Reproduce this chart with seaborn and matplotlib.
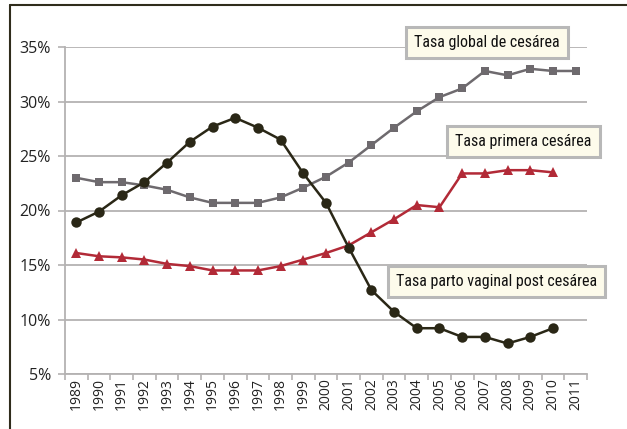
import matplotlib.pyplot as plt
from matplotlib.lines import Line2D
from matplotlib.ticker import FixedLocator
import numpy as np
import pandas as pd
import seaborn as sns

years = list(range(1989, 2012))

tasa_global = [23.0, 22.6, 22.6, 22.3, 21.9, 21.2, 20.7, 20.7, 20.7, 21.2, 22.1, 23.1,
               24.4, 26.0, 27.6, 29.1, 30.4, 31.2, 32.8, 32.4, 33.0, 32.8, 32.8]
tasa_primera = [16.1, 15.8, 15.7, 15.5, 15.1, 14.9, 14.5, 14.5, 14.5, 14.9, 15.5, 16.1,
                16.8, 18.0, 19.2, 20.5, 20.3, 23.4, 23.4, 23.7, 23.7, 23.5, np.nan]
tasa_vaginal = [18.9, 19.9, 21.4, 22.6, 24.4, 26.3, 27.7, 28.5, 27.6, 26.5, 23.4, 20.7,
                16.6, 12.7, 10.7, 9.2, 9.2, 8.4, 8.4, 7.8, 8.4, 9.2, np.nan]

labels = ["Tasa global de cesárea", "Tasa primera cesárea", "Tasa parto vaginal post cesárea"]

sns.set_style("white")
plt.rcParams['font.family'] = ['Open Sans', 'DejaVu Sans']
cond = ['Roboto Condensed', 'Open Sans', 'DejaVu Sans']

fig = plt.figure(figsize=(6.27, 4.29), dpi=100, facecolor='white')
ax = fig.add_axes([65 / 627, (429 - 374) / 429, (587 - 65) / 627, (374 - 47) / 429])

grid_c = "#b4b2b2"
for v in range(5, 40, 5):
    ax.axhline(v, color=grid_c, lw=1.3, zorder=0)

df = pd.DataFrame({"year": years, "g": tasa_global, "p": tasa_primera, "v": tasa_vaginal})

sns.lineplot(data=df, x="year", y="g", ax=ax, color="#6e6a6e", lw=1.8,
             marker="s", markersize=5.5, markeredgewidth=0)
sns.lineplot(data=df, x="year", y="p", ax=ax, color="#b22a37", lw=1.8,
             marker="^", markersize=7, markeredgewidth=0)
sns.lineplot(data=df, x="year", y="v", ax=ax, color="#2a2716", lw=1.8,
             marker="o", markersize=7.5, markeredgewidth=0)

ax.set_xlim(1988.5, 2011.5)
ax.set_ylim(5, 35)
ax.set_xlabel("")
ax.set_ylabel("")

ax.set_xticks(years)
ax.set_xticklabels([str(y) for y in years], rotation=90, fontsize=10, color="#222222")
ax.xaxis.set_minor_locator(FixedLocator([y - 0.5 for y in years] + [2011.5]))
ax.tick_params(axis="x", which="major", length=0, pad=3)
ax.tick_params(axis="x", which="minor", length=4, color=grid_c, width=1.2, bottom=True)

ax.set_yticks(range(5, 40, 5))
ax.set_yticklabels([f"{v}%" for v in range(5, 40, 5)], fontsize=11.5, color="#222222")
ax.tick_params(axis="y", length=5, color=grid_c, width=1.2, left=True, pad=5)

for s in ["top", "right"]:
    ax.spines[s].set_visible(False)
for s in ["left", "bottom"]:
    ax.spines[s].set_color(grid_c)
    ax.spines[s].set_linewidth(1.3)

box = dict(boxstyle="square,pad=0.5", fc="#fdfbeb", ec="#b8b8b8", lw=2.2)
ax.text(2007.1, 35.4, labels[0], fontsize=11.5, family=cond, ha="center", va="center", bbox=box, color="#111111")
ax.text(2008.7, 26.3, labels[1], fontsize=11.5, family=cond, ha="center", va="center", bbox=box, color="#111111")
ax.text(2007.5, 13.5, labels[2], fontsize=11.5, family=cond, ha="center", va="center", bbox=box, color="#111111")

frame_c = "#2f2c1c"
fig.add_artist(Line2D([10 / 627, 1.0], [1 - 5 / 429, 1 - 5 / 429], color=frame_c, lw=1.5))
fig.add_artist(Line2D([10 / 627, 10 / 627], [0, 1 - 5 / 429], color=frame_c, lw=1.5))

fig.savefig("out.png", dpi=100, facecolor='white')
